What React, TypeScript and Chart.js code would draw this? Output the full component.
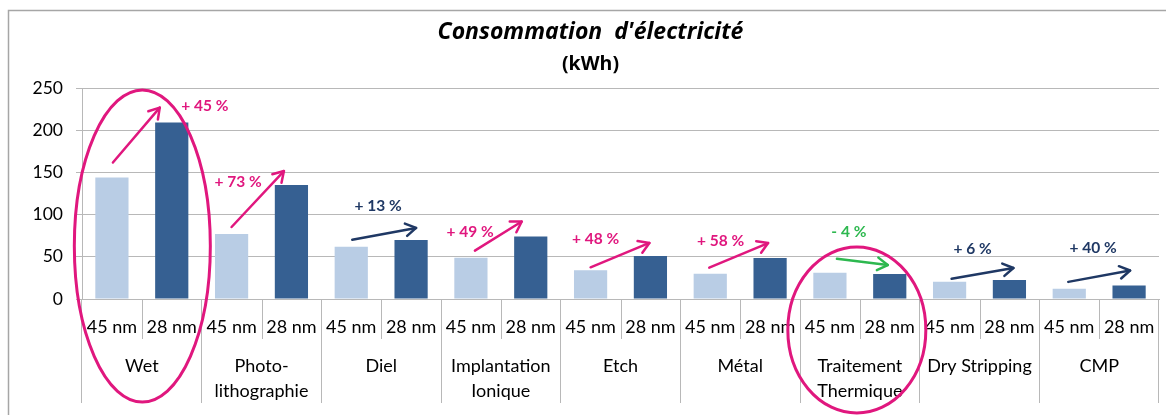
import React, { useEffect, useRef } from 'react';
import { Chart, registerables } from 'chart.js';

Chart.register(...registerables);

// ---- data ----
const categories: (string | string[])[] = [
  'Wet',
  ['Photo-', 'lithographie'],
  'Diel',
  ['Implantation', 'Ionique'],
  'Etch',
  'Métal',
  ['Traitement', 'Thermique'],
  'Dry Stripping',
  'CMP',
];
const nodeLabels = ['45 nm', '28 nm'];
const values45 = [144, 77, 62, 49, 34, 30, 31, 20.5, 12];
const values28 = [209, 135, 70, 74, 51, 48.5, 29.5, 22.5, 16];
const changeLabels = ['+ 45 %', '+ 73 %', '+ 13 %', '+ 49 %', '+ 48 %', '+ 58 %', '- 4 %', '+ 6 %', '+ 40 %'];
const yMin = 0;
const yMax = 250;
const yStep = 50;

// ---- styles / annotation layout ----
const FONT = 'Lato, "Open Sans", sans-serif';
const TITLE_FONT = '"Open Sans", Lato, sans-serif';
const LIGHT = '#b9cde5';
const DARK = '#366092';
const PINK = '#e0177e';
const NAVY = '#1f3864';
const GREEN = '#2db84f';
const GRID = '#b8b8b8';
const arrowColors = [PINK, PINK, NAVY, PINK, PINK, PINK, GREEN, NAVY, NAVY];
// [dx start (from 45nm bar), dy above 45nm top, dx end (from 28nm bar), dy above 28nm top, text dx from category centre, text dy from 28nm top]
const arrowLayout = [
  [1, 15, -12, 15, 63, -17],
  [0, 7, -7.5, 14, -23.5, -3],
  [1, 7, 5, 12, -3, -34],
  [4, 7, -9, 15, -30.7, -5],
  [0, 3, -1, 13, -25, -16.7],
  [-1, 6, -2, 15, -19.5, -17],
  [7, 14, -2, 9, -11, -42],
  [2, 3, 4, 12, -7, -31],
  [-1, 7, 1, 15, -6, -37],
];
// ellipses: [category index, dx, centre y, rx, ry]
const ellipses = [
  [0, 0.5, 246, 68, 156],
  [6, -3, 330, 69, 83],
];

function drawArrow(ctx: CanvasRenderingContext2D, x0: number, y0: number, x1: number, y1: number, color: string) {
  ctx.save();
  ctx.strokeStyle = color;
  ctx.lineWidth = 2.5;
  ctx.lineCap = 'round';
  ctx.lineJoin = 'round';
  ctx.beginPath();
  ctx.moveTo(x0, y0);
  ctx.lineTo(x1, y1);
  ctx.stroke();
  const a = Math.atan2(y1 - y0, x1 - x0);
  const h = 12;
  const s = 0.55;
  ctx.beginPath();
  ctx.moveTo(x1 - h * Math.cos(a - s), y1 - h * Math.sin(a - s));
  ctx.lineTo(x1, y1);
  ctx.lineTo(x1 - h * Math.cos(a + s), y1 - h * Math.sin(a + s));
  ctx.stroke();
  ctx.restore();
}

const overlayPlugin = {
  id: 'overlay',
  beforeDraw(chart: any) {
    const ctx = chart.ctx as CanvasRenderingContext2D;
    ctx.save();
    ctx.strokeStyle = '#a6a6a6';
    ctx.lineWidth = 1.5;
    ctx.beginPath();
    ctx.moveTo(8.5, chart.height);
    ctx.lineTo(8.5, 10.5);
    ctx.lineTo(chart.width, 10.5);
    ctx.stroke();
    ctx.restore();
  },
  afterDraw(chart: any) {
    const ctx = chart.ctx as CanvasRenderingContext2D;
    const xs = chart.scales.x;
    const bottom = chart.chartArea.bottom;
    const m45 = chart.getDatasetMeta(0).data;
    const m28 = chart.getDatasetMeta(1).data;
    ctx.save();
    // sub-category row
    ctx.strokeStyle = GRID;
    ctx.lineWidth = 1;
    ctx.fillStyle = '#000';
    ctx.font = `18px ${FONT}`;
    ctx.textAlign = 'center';
    ctx.textBaseline = 'middle';
    categories.forEach((_, i) => {
      const cx = Math.round(xs.getPixelForValue(i)) + 0.5;
      ctx.beginPath();
      ctx.moveTo(cx, bottom);
      ctx.lineTo(cx, bottom + 40);
      ctx.stroke();
      ctx.fillText(nodeLabels[0], m45[i].x, bottom + 28);
      ctx.fillText(nodeLabels[1], m28[i].x, bottom + 28);
    });
    // arrows and change labels
    ctx.font = `bold 15.5px ${FONT}`;
    categories.forEach((_, i) => {
      const L = arrowLayout[i];
      const b45 = m45[i];
      const b28 = m28[i];
      drawArrow(ctx, b45.x + L[0], b45.y - L[1], b28.x + L[2], b28.y - L[3], arrowColors[i]);
      ctx.fillStyle = arrowColors[i];
      ctx.fillText(changeLabels[i], xs.getPixelForValue(i) + L[4], b28.y + L[5]);
    });
    // ellipses
    ctx.strokeStyle = PINK;
    ctx.lineWidth = 3;
    ellipses.forEach(([ci, dx, cy, rx, ry]) => {
      ctx.beginPath();
      ctx.ellipse(xs.getPixelForValue(ci) + dx, cy, rx, ry, 0, 0, Math.PI * 2);
      ctx.stroke();
    });
    ctx.restore();
  },
};

export default function App() {
  const ref = useRef<HTMLCanvasElement>(null);
  useEffect(() => {
    if (!ref.current) return;
    const chart = new Chart(ref.current, {
      type: 'bar',
      data: {
        labels: categories as any,
        datasets: [
          { label: nodeLabels[0], data: values45, backgroundColor: LIGHT, categoryPercentage: 1, barPercentage: 0.555 },
          { label: nodeLabels[1], data: values28, backgroundColor: DARK, categoryPercentage: 1, barPercentage: 0.555 },
        ],
      },
      options: {
        animation: false,
        responsive: true,
        maintainAspectRatio: false,
        layout: { padding: { left: 22, right: 7, top: 0, bottom: 0 } },
        plugins: {
          legend: { display: false },
          tooltip: { enabled: false },
          title: {
            display: true,
            text: "Consommation  d'électricité",
            color: '#000',
            font: { family: TITLE_FONT, size: 23, weight: 'bold', style: 'italic', lineHeight: 26 / 23 },
            padding: { top: 19, bottom: 0 },
          },
          subtitle: {
            display: true,
            text: '(kWh)',
            color: '#000',
            font: { family: TITLE_FONT, size: 19.5, weight: 'bold', lineHeight: 20 / 19.5 },
            padding: { top: 9.5, bottom: 13.5 },
          },
        },
        scales: {
          x: {
            grid: { display: true, drawOnChartArea: false, drawTicks: true, tickLength: 104, color: GRID, offset: true },
            border: { display: true, color: GRID },
            ticks: {
              color: '#000',
              font: { family: FONT, size: 18, lineHeight: 25 / 18 },
              padding: -49.5,
              maxRotation: 0,
              autoSkip: false,
            },
            afterFit: (s: any) => { s.height = 116; },
          },
          y: {
            min: yMin,
            max: yMax,
            grid: { color: GRID, tickLength: 6 },
            border: { display: true, color: GRID },
            ticks: {
              stepSize: yStep,
              color: '#000',
              font: { family: FONT, size: 17.5 },
              padding: 13,
            },
            afterFit: (s: any) => { s.width = 60; },
          },
        },
      },
      plugins: [overlayPlugin],
    });
    return () => chart.destroy();
  }, []);
  return (
    <div style={{ position: 'fixed', left: 0, top: 0, width: 1166, height: 415, background: '#fff' }}>
      <canvas ref={ref} />
    </div>
  );
}
